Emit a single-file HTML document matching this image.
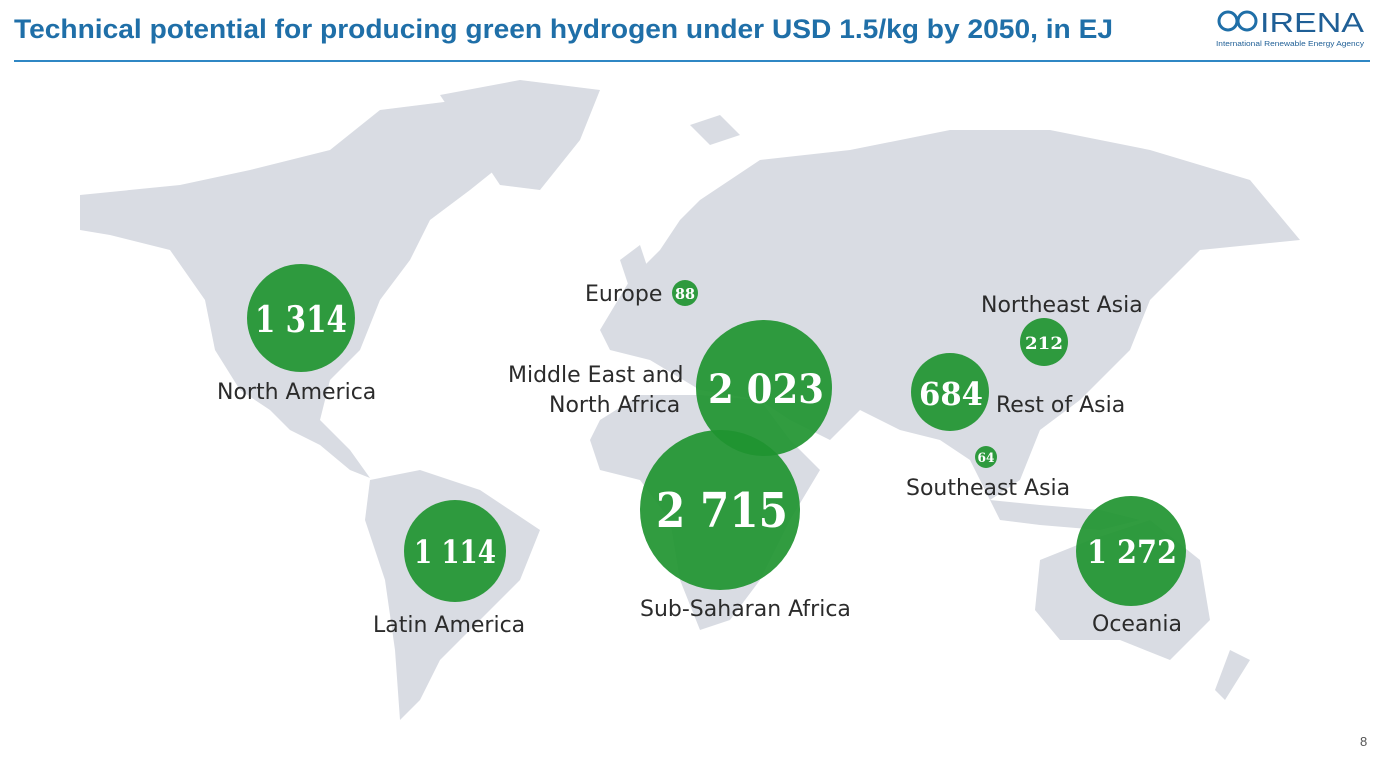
<!DOCTYPE html>
<html><head><meta charset="utf-8"><style>
body{margin:0;width:1383px;height:758px;background:#fff;overflow:hidden;font-family:"Liberation Sans",sans-serif;position:relative}
.line{position:absolute;left:14px;top:60px;width:1356px;height:2px;background:#2f87c4}
svg{position:absolute;left:0;top:0}
.lab{font-family:"DejaVu Sans","Liberation Sans",sans-serif;font-size:22px;fill:#2b2b2b}
.num{font-family:"DejaVu Serif",serif;font-weight:bold;fill:#fff;text-anchor:middle}
</style></head><body>
<div class="line"></div>
<svg width="1383" height="758">
<text x="14" y="38" font-size="27" font-weight="bold" fill="#1f6fa8" font-family="Liberation Sans" textLength="1099" lengthAdjust="spacingAndGlyphs">Technical potential for producing green hydrogen under USD 1.5/kg by 2050, in EJ</text>
<g fill="#d9dce3">
<polygon points="80,195 180,185 250,170 330,150 380,110 460,100 520,110 540,130 520,150 470,190 430,220 410,260 380,300 360,350 330,380 320,420 350,450 370,478 350,470 320,445 290,430 270,410 240,390 215,350 205,300 170,250 110,235 80,230"/>
<polygon points="440,95 520,80 600,90 580,140 540,190 500,185 470,140"/>
<polygon points="370,480 420,470 480,490 540,530 520,580 480,620 440,660 420,700 400,720 395,650 385,580 365,520"/>
<polygon points="600,420 640,395 700,395 760,400 790,440 820,470 790,520 760,580 730,620 700,630 680,580 670,520 640,480 600,470 590,440"/>
<polygon points="600,330 630,280 660,250 680,220 700,200 760,160 850,150 950,130 1050,130 1150,150 1250,180 1300,240 1200,250 1150,300 1130,350 1080,400 1040,430 1020,480 990,500 970,460 940,440 900,430 860,410 830,440 790,420 760,400 700,390 650,360 610,350"/>
<polygon points="690,125 720,115 740,135 710,145"/>
<polygon points="620,260 640,245 650,275 630,290"/>
<polygon points="1040,560 1090,540 1150,520 1200,560 1210,620 1170,660 1120,640 1060,640 1035,610"/>
<polygon points="990,500 1040,505 1100,510 1140,520 1100,530 1040,525 1000,520"/>
<polygon points="1230,650 1250,660 1225,700 1215,690"/>
</g>
<g fill="#1f9430" fill-opacity="0.92">
<circle cx="301" cy="318" r="54"/>
<circle cx="685" cy="293" r="13"/>
<circle cx="764" cy="388" r="68"/>
<circle cx="720" cy="510" r="80"/>
<circle cx="950" cy="392" r="39"/>
<circle cx="1044" cy="342" r="24"/>
<circle cx="986" cy="457" r="11"/>
<circle cx="455" cy="551" r="51"/>
<circle cx="1131" cy="551" r="55"/>
</g>
<text class="num" x="301" y="332" font-size="36" textLength="92" lengthAdjust="spacingAndGlyphs">1 314</text>
<text class="num" x="685" y="299" font-size="15" textLength="20" lengthAdjust="spacingAndGlyphs">88</text>
<text class="num" x="766" y="403" font-size="40" textLength="116" lengthAdjust="spacingAndGlyphs">2 023</text>
<text class="num" x="722" y="527" font-size="48" textLength="132" lengthAdjust="spacingAndGlyphs">2 715</text>
<text class="num" x="951" y="405" font-size="32" textLength="64" lengthAdjust="spacingAndGlyphs">684</text>
<text class="num" x="1044" y="349" font-size="17" textLength="38" lengthAdjust="spacingAndGlyphs">212</text>
<text class="num" x="986" y="462" font-size="13" textLength="17" lengthAdjust="spacingAndGlyphs">64</text>
<text class="num" x="455" y="563" font-size="32" textLength="82" lengthAdjust="spacingAndGlyphs">1 114</text>
<text class="num" x="1132" y="563" font-size="32" textLength="90" lengthAdjust="spacingAndGlyphs">1 272</text>
<text class="lab" x="217" y="399">North America</text>
<text class="lab" x="585" y="301">Europe</text>
<text class="lab" x="508" y="382">Middle East and</text>
<text class="lab" x="549" y="412">North Africa</text>
<text class="lab" x="981" y="312">Northeast Asia</text>
<text class="lab" x="996" y="412">Rest of Asia</text>
<text class="lab" x="906" y="495">Southeast Asia</text>
<text class="lab" x="640" y="616">Sub-Saharan Africa</text>
<text class="lab" x="373" y="632">Latin America</text>
<text class="lab" x="1092" y="631">Oceania</text>
<text x="1360" y="746" font-size="13" fill="#555" font-family="Liberation Sans">8</text>
<g fill="none" stroke="#1f6fa8" stroke-width="3">
<circle cx="1228" cy="21" r="9"/><circle cx="1247" cy="21" r="9"/>
</g>
<text x="1260" y="32" font-size="28" fill="#1f5f96" font-family="Liberation Sans" textLength="104" lengthAdjust="spacingAndGlyphs">IRENA</text>
<text x="1216" y="46" font-size="7" fill="#1f5f96" font-family="Liberation Sans" textLength="148" lengthAdjust="spacingAndGlyphs">International Renewable Energy Agency</text>
</svg>
</body></html>
